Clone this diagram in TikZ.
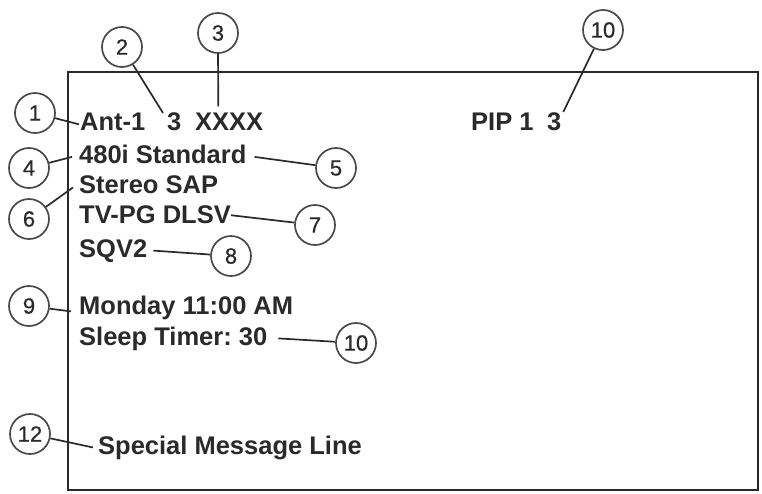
\documentclass[tikz,border=0pt]{standalone}
\usepackage{fontspec}
\setmainfont{Liberation Sans}
\newfontfamily\calloutfont[FakeBold=0.6]{Liberation Sans}
\definecolor{inkgray}{HTML}{2A2A2A}
\tikzset{
   callout/.style={draw=inkgray!85, circle, line width=1.7pt, minimum size=40pt, inner sep=0pt, font=\calloutfont\fontsize{22}{22}\selectfont, text=inkgray},
   osd/.style={anchor=base west, inner sep=0pt, font=\fontsize{25.5}{25.5}\selectfont\bfseries\frenchspacing, text=inkgray},
   lead/.style={draw=inkgray, line width=1.7pt},
}
\begin{document}
\begin{tikzpicture}[x=1pt, y=-1pt]
\useasboundingbox (0,0) rectangle (762,493);
\draw[inkgray, line width=2pt] (67.5,72) rectangle (758,490);
\node[callout] (c1) at (35,113) {1};
\node[callout] (c2) at (122,47) {2};
\node[callout] (c3) at (218,33) {3};
\node[callout] (c10a) at (603,30) {10};
\node[callout] (c4) at (29,168) {4};
\node[callout] (c5) at (336,168) {5};
\node[callout] (c6) at (29,219) {6};
\node[callout] (c7) at (315,225) {7};
\node[callout] (c8) at (231,256) {8};
\node[callout] (c9) at (29,306) {9};
\node[callout] (c10b) at (356,343) {10};
\node[callout] (c12) at (30,434) {12};
\node[osd] (ant) at (80,130) {Ant-1};
\node[osd] (chan) at (167,130) {3};
\node[osd] (xxxx) at (195,130) {XXXX};
\node[osd] (pip) at (471,130) {PIP 1};
\node[osd] (pipch) at (547,130) {3};
\node[osd] (std) at (79,163) {480i Standard};
\node[osd] (sap) at (79,193) {Stereo SAP};
\node[osd] (rate) at (79,223) {TV-PG DLSV};
\node[osd] (sqv) at (79,257) {SQV2};
\node[osd] (day) at (79,314) {Monday 11:00 AM};
\node[osd] (sleep) at (79,345) {Sleep Timer: 30};
\node[osd] (msg) at (98,454) {Special Message Line};
\draw[lead] (c1) -- ([shift={(-1pt,-3pt)}]ant.west);
\draw[lead] (c2) -- ([shift={(-4pt,-1pt)}]chan.north west);
\draw[lead] (c3) -- ([shift={(-11pt,6pt)}]xxxx.north);
\draw[lead] (c10a) -- ([shift={(9pt,0pt)}]pipch.north);
\draw[lead] (c4) -- ([shift={(-7pt,-3pt)}]std.west);
\draw[lead] (c5) -- ([shift={(8pt,-3pt)}]std.east);
\draw[lead] (c6) -- ([shift={(-6pt,6pt)}]sap.south west);
\draw[lead] (c7) -- ([yshift=-1pt]rate.east);
\draw[lead] (c8) -- ([xshift=6pt]sqv.east);
\draw[lead] (c9) -- ([shift={(-8pt,-4pt)}]day.west);
\draw[lead] (c10b) -- ([xshift=11pt]sleep.east);
\draw[lead] (c12) -- ([xshift=-5pt]msg.west);
\end{tikzpicture}
\end{document}
